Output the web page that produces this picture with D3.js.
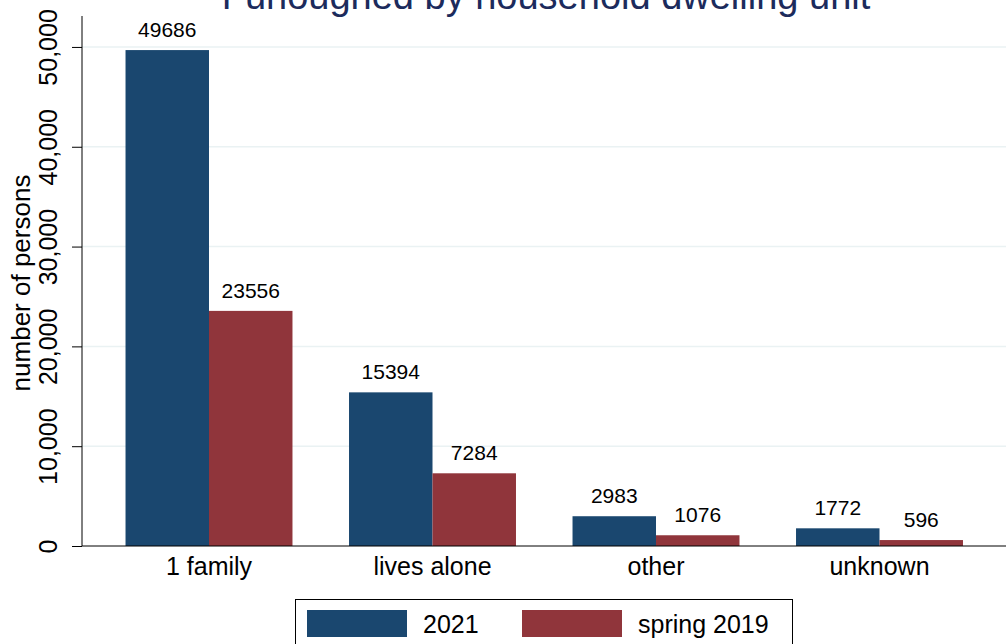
<!DOCTYPE html>
<html>
<head>
<meta charset="utf-8">
<script src="https://d3js.org/d3.v7.min.js"></script>
<style>
  body { margin: 0; background: #fff; }
  svg { display: block; font-family: Arial, "Liberation Sans", Helvetica, sans-serif; }
</style>
</head>
<body>
<svg id="chart"></svg>
<script>
var categories = ["1 family", "lives alone", "other", "unknown"];
var seriesNames = ["2021", "spring 2019"];
var values2021 = [49686, 15394, 2983, 1772];
var values2019 = [23556, 7284, 1076, 596];
var yTicks = [0, 10000, 20000, 30000, 40000, 50000];
var colors = ["#1a476f", "#90353b"];

var width = 1007, height = 644;
var svg = d3.select("#chart").attr("width", width).attr("height", height);

var plotLeft = 82, plotRight = 1006, plotBottom = 546, plotTop = 16;

var data = categories.map(function (c, i) {
  return { cat: c, vals: [values2021[i], values2019[i]] };
});

var xScale = d3.scaleBand()
  .domain(categories)
  .range([97.25, 991.25])
  .paddingInner(0.253)
  .paddingOuter(0.1265);

var xSub = d3.scaleBand()
  .domain(seriesNames)
  .range([0, xScale.bandwidth()]);

var yScale = d3.scaleLinear()
  .domain([0, 53100])
  .range([plotBottom, plotTop]);

// gridlines
svg.append("g")
  .selectAll("line")
  .data(yTicks.filter(function (d) { return d > 0; }))
  .enter()
  .append("line")
  .attr("x1", plotLeft)
  .attr("x2", plotRight)
  .attr("y1", function (d) { return yScale(d); })
  .attr("y2", function (d) { return yScale(d); })
  .attr("stroke", "#eaf2f3")
  .attr("stroke-width", 1.5);

// bars
var groups = svg.append("g")
  .selectAll("g")
  .data(data)
  .enter()
  .append("g")
  .attr("transform", function (d) { return "translate(" + xScale(d.cat) + ",0)"; });

groups.selectAll("rect")
  .data(function (d) { return d.vals.map(function (v, j) { return { s: seriesNames[j], v: v, j: j }; }); })
  .enter()
  .append("rect")
  .attr("x", function (d) { return xSub(d.s); })
  .attr("width", xSub.bandwidth())
  .attr("y", function (d) { return yScale(d.v); })
  .attr("height", function (d) { return yScale(0) - yScale(d.v); })
  .attr("fill", function (d) { return colors[d.j]; });

groups.selectAll("text")
  .data(function (d) { return d.vals.map(function (v, j) { return { s: seriesNames[j], v: v }; }); })
  .enter()
  .append("text")
  .attr("x", function (d) { return xSub(d.s) + xSub.bandwidth() / 2; })
  .attr("y", function (d) { return yScale(d.v) - 13; })
  .attr("text-anchor", "middle")
  .style("font-size", "21px")
  .attr("fill", "#000")
  .text(function (d) { return d.v; });

// y axis
var yAxis = svg.append("g")
  .attr("transform", "translate(" + plotLeft + ",0)")
  .call(d3.axisLeft(yScale).tickValues(yTicks).tickSize(10).tickPadding(0)
    .tickFormat(d3.format(",")));
yAxis.select(".domain").attr("d", "M0," + plotTop + "V" + plotBottom).attr("stroke", "#000");
yAxis.selectAll(".tick line").attr("stroke", "#000");
yAxis.selectAll(".tick text")
  .attr("x", 0)
  .attr("dy", 0)
  .attr("transform", "translate(-25,0) rotate(-90)")
  .attr("text-anchor", "middle")
  .style("font-size", "25px")
  .attr("fill", "#000");

// x axis
var xAxis = svg.append("g")
  .attr("transform", "translate(0," + plotBottom + ")")
  .call(d3.axisBottom(xScale).tickSize(0).tickPadding(0));
xAxis.select(".domain").attr("d", "M" + plotLeft + ",0H" + plotRight).attr("stroke", "#000");
xAxis.selectAll(".tick text")
  .attr("y", 29)
  .attr("dy", 0)
  .style("font-size", "25px")
  .attr("fill", "#000");

// axis title
svg.append("text")
  .attr("transform", "translate(30,283) rotate(-90)")
  .attr("text-anchor", "middle")
  .style("font-size", "26px")
  .attr("fill", "#000")
  .text("number of persons");

// title
svg.append("text")
  .attr("x", 546)
  .attr("y", 9)
  .attr("text-anchor", "middle")
  .style("font-size", "38px")
  .attr("fill", "#1c2b5c")
  .text("Furloughed by household dwelling unit");

// legend
var legend = svg.append("g");
legend.append("rect")
  .attr("x", 295.5)
  .attr("y", 599.5)
  .attr("width", 497)
  .attr("height", 60)
  .attr("fill", "#fff")
  .attr("stroke", "#000")
  .attr("stroke-width", 1);

var legX = [307, 522];
seriesNames.forEach(function (s, i) {
  legend.append("rect")
    .attr("x", legX[i])
    .attr("y", 610)
    .attr("width", 100)
    .attr("height", 27)
    .attr("fill", colors[i]);
  legend.append("text")
    .attr("x", legX[i] + 116)
    .attr("y", 633)
    .style("font-size", "25px")
    .attr("fill", "#000")
    .text(s);
});
</script>
</body>
</html>
